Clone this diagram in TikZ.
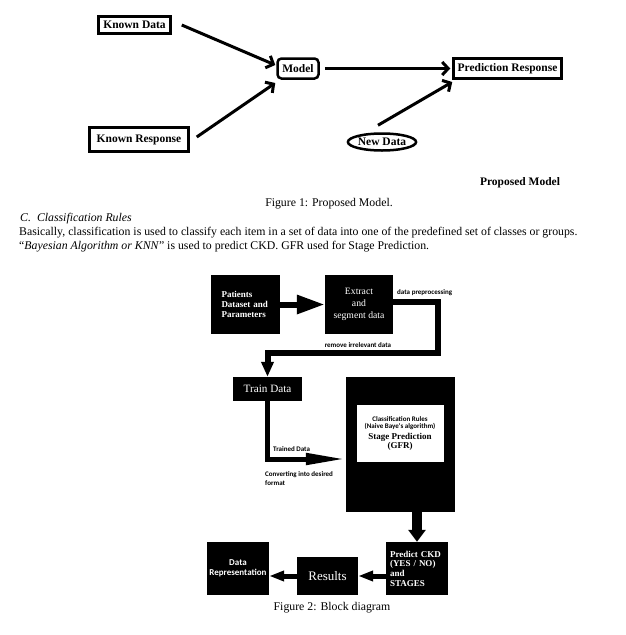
\documentclass[tikz,border=0pt]{standalone}
\usepackage{fontspec}
\setmainfont{Liberation Serif}
\newfontfamily\lblfont{Carlito}
\usetikzlibrary{arrows.meta,shapes.geometric,positioning}

\begin{document}
\begin{tikzpicture}[x=1pt, y=-1pt,
    frame/.style={rectangle, draw, line width=2.5pt, inner sep=0pt, font=\fontsize{11.5}{13}\selectfont\bfseries},
    block/.style={rectangle, fill=black, text=white, inner sep=0pt},
    note/.style={inner sep=0pt, font=\lblfont\fontsize{7}{8.5}\selectfont\bfseries},
    body/.style={inner sep=0pt, font=\fontsize{11.8}{13}\selectfont},
    arrow/.style={-{Straight Barb[length=6pt,width=13pt]}, line width=3pt},
    bigarrow/.style={-{Triangle[length=28pt,width=18pt]}, line width=6pt},
    flow/.style={-{Triangle[length=15pt,width=12pt]}, line width=6pt},
    thinflow/.style={-{Triangle[length=15pt,width=10pt]}, line width=5pt}
]
\useasboundingbox (0,0) rectangle (625,635);

% Figure 1
\node[frame, minimum width=72, minimum height=17] (kd) at (134.5,25) {Known Data};
\node[frame, minimum width=99, minimum height=24] (kr) at (139,139.5) {Known Response};
\node[frame, rounded corners=4pt, minimum width=41, minimum height=20] (model) at (298,68.5) {Model};
\node[frame, minimum width=108, minimum height=20] (pred) at (507.5,68.5) {Prediction Response};
\node[frame, ellipse, minimum width=67, minimum height=17] (nd) at (382,142) {New Data};
\node[font=\fontsize{11.5}{13}\selectfont\bfseries, inner sep=0pt] (pm) at (520,183) {Proposed Model};

\draw[arrow] ([xshift=10pt]kd.east) -- ([xshift=-1pt,yshift=3.5pt]model.west);
\draw[arrow] ([xshift=7pt,yshift=2.5pt]kr.east) -- ([xshift=-1pt,yshift=-14.5pt]model.west);
\draw[arrow] ([xshift=5pt]model.east) -- ([xshift=-2pt]pred.west);
\draw[arrow] ([xshift=-4pt,yshift=7pt]nd.north) -- ([yshift=-13.5pt]pred.west);

% text
\node[body] (fig1) at (329,204) {Figure 1: Proposed Model.};
\node[body, anchor=west] (sec) at (20,219) {\itshape C.\hspace{6pt}Classification Rules};
\node[body, anchor=west] (p1) at (19,233) {Basically, classification is used to classify each item in a set of data into one of the predefined set of classes or groups.};
\node[body, anchor=west] (p2) at (19,247) {``\textit{Bayesian Algorithm or KNN}\char34{} is used to predict CKD. GFR used for Stage Prediction.};

% Figure 2
\node[block, minimum width=69, minimum height=59, text width=48, align=left, font=\fontsize{9}{10}\selectfont\bfseries] (pat) at (245.5,304.5) {Patients\\Dataset and\\Parameters};
\node[block, minimum width=68, minimum height=59, align=center, font=\fontsize{9.7}{12}\selectfont] (ext) at (359,304.5) {Extract\\and\\segment data};
\node[block, minimum width=69, minimum height=24, font=\fontsize{11.2}{13}\selectfont] (train) at (267.5,389) {Train Data};
\node[block, minimum width=109, minimum height=135] (clf) at (400.5,444.5) {};
\node[fill=white, minimum width=87, minimum height=57, inner sep=0pt, align=center, font=\fontsize{7}{7}\selectfont] (rules) at (400,433.5)
    {{\lblfont\bfseries Classification Rules}\\
     {\lblfont\bfseries (Naive Baye's algorithm)}\\[3pt]
     {\fontsize{9}{9}\selectfont\bfseries Stage Prediction}\\
     {\fontsize{9}{9}\selectfont\bfseries (GFR)}};
\node[block, minimum width=62, minimum height=53, text width=54, align=left, font=\fontsize{9}{9.7}\selectfont\bfseries] (pcd) at (417,568.5) {Predict CKD\\(YES / NO)\\and\\STAGES};
\node[block, minimum width=61, minimum height=38, font=\fontsize{13}{15}\selectfont] (res) at (327.5,576) {Results};
\node[block, minimum width=62, minimum height=53, align=center, font=\lblfont\fontsize{9}{10}\selectfont\bfseries] (drep) at (238,568.5) {Data\\Representation};

\node[note, anchor=west] (l1) at (397,293) {data preprocessing};
\node[note] (l2) at (358,345) {remove irrelevant data};
\node[note, anchor=west] (l3) at (273,449) {Trained Data};
\node[note, anchor=west, align=left] (l4) at (265,478.5) {Converting into desired\\format};

\coordinate (c1) at (438,353);
\draw[bigarrow] (pat) -- (ext);
\draw[flow] ([yshift=2.5pt]ext.east) -| (c1) -| (train.north);
\draw[-{Triangle[length=40pt,width=11pt]}, line width=5pt] (train.south) |- ([yshift=-14.5pt]clf.west);
\draw[-{Triangle[length=12pt,width=17pt]}, line width=10pt] (pcd.north |- clf.south) -- (pcd.north);
\draw[thinflow] (pcd.west |- res.east) -- (res.east);
\draw[thinflow] (res.west) -- (res.west -| drep.east);

\node[body] (fig2) at (332,608) {Figure 2: Block diagram};
\end{tikzpicture}
\end{document}
